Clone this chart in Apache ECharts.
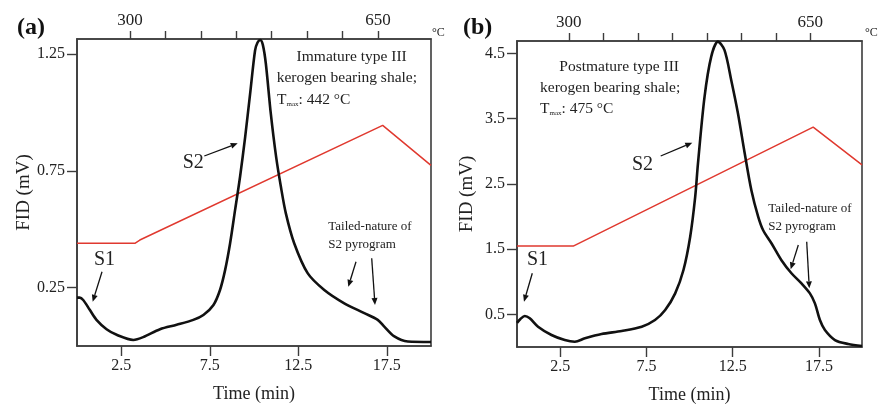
<!DOCTYPE html>
<html>
<head>
<meta charset="utf-8">
<script src="https://cdn.jsdelivr.net/npm/echarts@6/dist/echarts.min.js"></script>
<style>
html,body{margin:0;padding:0;background:#fff}
#chart{width:878px;height:406px}
</style>
</head>
<body>
<div id="chart"></div>
<script>
// Panel (a): immature type III kerogen shale, FID signal (mV) vs time (min)
const timeA = [0, 0.15, 0.35, 0.72, 1.1, 1.67, 2.24, 3.18, 3.74, 4.69, 5.63, 6.57, 7.14, 7.71, 8.08, 8.37, 8.65, 8.93, 9.21, 9.5, 9.78, 10.06, 10.2, 10.35, 10.5, 10.67, 10.95, 11.25, 11.52, 11.8, 12.27, 13.03, 13.97, 15.1, 16.23, 16.99, 17.36, 17.93, 18.69, 20];
const fidA  = [0.207, 0.207, 0.197, 0.155, 0.112, 0.072, 0.048, 0.026, 0.038, 0.072, 0.091, 0.112, 0.133, 0.176, 0.24, 0.326, 0.44, 0.582, 0.724, 0.895, 1.08, 1.266, 1.3, 1.311, 1.29, 1.209, 0.995, 0.81, 0.682, 0.568, 0.44, 0.312, 0.24, 0.183, 0.141, 0.112, 0.083, 0.041, 0.019, 0.017];
// Oven temperature programme trace, drawn in the FID units of panel (a)
const progTimeA = [0, 3.27, 3.55, 17.27, 20];
const progA     = [0.44, 0.44, 0.454, 0.945, 0.774];

// Panel (b): postmature type III kerogen shale
const timeB = [0, 0.2, 0.45, 0.74, 1.22, 2.0, 2.77, 3.35, 3.94, 4.9, 6.07, 7.23, 8.0, 8.59, 9.17, 9.65, 10.04, 10.33, 10.49, 10.87, 11.26, 11.65, 12.03, 12.42, 12.81, 13.2, 13.59, 13.98, 14.27, 14.75, 15.33, 15.91, 16.49, 16.98, 17.27, 17.56, 17.85, 18.43, 19.2, 20];
const fidB  = [0.37, 0.43, 0.475, 0.44, 0.311, 0.184, 0.107, 0.081, 0.133, 0.199, 0.245, 0.311, 0.413, 0.567, 0.822, 1.18, 1.69, 2.3, 2.81, 3.83, 4.45, 4.68, 4.55, 4.09, 3.58, 2.97, 2.4, 2.0, 1.79, 1.59, 1.33, 1.13, 0.975, 0.822, 0.669, 0.413, 0.26, 0.107, 0.046, 0.015];
const progTimeB = [0, 3.26, 17.17, 20];
const progB     = [1.547, 1.547, 3.37, 2.79];

// Tick positions and labels
const timeTicks = [2.5, 7.5, 12.5, 17.5];
const fidTicksA = [0.25, 0.75, 1.25];
const fidTicksB = [0.5, 1.5, 2.5, 3.5, 4.5];
const tempTicks = [300, 350, 400, 450, 500, 550, 600, 650];
const tempLabels = [300, 650];

const SERIF = '"Liberation Serif","DejaVu Serif",serif';
const INK = '#222';
const AXIS = '#3c3c3c';

function zip(xs, ys) { return xs.map((x, i) => [x, ys[i]]); }

function timeAxis(gridIndex) {
  return {
    type: 'value', gridIndex, position: 'bottom', min: 0, max: 20,
    axisLine: { show: true, lineStyle: { color: AXIS, width: 1.6 } },
    axisTick: { show: true, customValues: timeTicks, length: 10, lineStyle: { color: AXIS, width: 1.4 } },
    axisLabel: { customValues: timeTicks, fontFamily: SERIF, fontSize: 16, color: INK, margin: 12 },
    splitLine: { show: false },
    name: 'Time (min)', nameLocation: 'middle', nameGap: 39,
    nameTextStyle: { fontFamily: SERIF, fontSize: 18, color: INK }
  };
}
function tempAxis(gridIndex) {
  return {
    type: 'value', gridIndex, position: 'top', min: 225, max: 725,
    axisLine: { show: true, lineStyle: { color: AXIS, width: 1.6 } },
    axisTick: { show: true, customValues: tempTicks, length: 8, lineStyle: { color: AXIS, width: 1.4 } },
    axisLabel: { customValues: tempLabels, fontFamily: SERIF, fontSize: 17, color: INK, margin: 10 },
    splitLine: { show: false }
  };
}
function fidAxis(gridIndex, max, ticks, gap) {
  return {
    type: 'value', gridIndex, min: 0, max,
    axisLine: { show: true, lineStyle: { color: AXIS, width: 1.6 } },
    axisTick: { show: true, customValues: ticks, length: 10, lineStyle: { color: AXIS, width: 1.4 } },
    axisLabel: { customValues: ticks, fontFamily: SERIF, fontSize: 16, color: INK, margin: 12 },
    splitLine: { show: false },
    name: 'FID (mV)', nameLocation: 'middle', nameGap: gap, nameRotate: 90,
    nameTextStyle: { fontFamily: SERIF, fontSize: 19, color: INK }
  };
}
function fidSeries(xi, yi, xs, ys) {
  return {
    type: 'line', xAxisIndex: xi, yAxisIndex: yi, data: zip(xs, ys),
    showSymbol: false, smooth: 0.3, silent: true,
    lineStyle: { color: '#111', width: 2.6 }, z: 3
  };
}
function progSeries(xi, yi, xs, ys) {
  return {
    type: 'line', xAxisIndex: xi, yAxisIndex: yi, data: zip(xs, ys),
    showSymbol: false, silent: true,
    lineStyle: { color: '#e0392f', width: 1.5 }, z: 2
  };
}

// Annotation helpers
function txt(x, y, text, size, align, extra) {
  return {
    type: 'text', x, y, z: 10, silent: true,
    style: Object.assign({ text, fontFamily: SERIF, fontSize: size, fill: INK, align: align || 'left', verticalAlign: 'middle' }, extra || {})
  };
}
function tmaxText(x, y, value) {
  return {
    type: 'text', x, y, z: 10, silent: true,
    style: {
      text: '{t|T}{s|max}{t|: ' + value + ' °C}',
      align: 'left', verticalAlign: 'middle',
      rich: {
        t: { fontFamily: SERIF, fontSize: 15.5, fill: INK },
        s: { fontFamily: SERIF, fontSize: 7, fill: INK, padding: [9, 0, 0, 0] }
      }
    }
  };
}
function arrow(x1, y1, x2, y2) {
  const a = Math.atan2(y2 - y1, x2 - x1), L = 7, W = 3;
  const bx = x2 - L * Math.cos(a), by = y2 - L * Math.sin(a);
  const px = -Math.sin(a), py = Math.cos(a);
  return [
    { type: 'line', z: 10, silent: true, shape: { x1, y1, x2: bx, y2: by }, style: { stroke: '#111', lineWidth: 1.3 } },
    { type: 'polygon', z: 10, silent: true, shape: { points: [[x2, y2], [bx + px * W, by + py * W], [bx - px * W, by - py * W]] }, style: { fill: '#111' } }
  ];
}

const graphics = [
  txt(17, 28, '(a)', 24, 'left', { fontWeight: 'bold', fill: '#111' }),
  txt(463, 28, '(b)', 24, 'left', { fontWeight: 'bold', fill: '#111' }),
  txt(432, 33, '°C', 12),
  txt(865, 33, '°C', 12),
  // panel (a) notes
  txt(351.7, 56.7, 'Immature type III', 15.5, 'center'),
  txt(276.7, 78, 'kerogen bearing shale;', 15.5),
  tmaxText(277, 100, 442),
  txt(182.7, 163, 'S2', 20),
  txt(94, 260, 'S1', 20),
  txt(328.3, 226.7, 'Tailed-nature of', 13),
  txt(328.3, 245, 'S2 pyrogram', 13),
  ...arrow(204.3, 156, 237.7, 143.3),
  ...arrow(102, 271.7, 92.7, 301.7),
  ...arrow(356, 261.7, 348.3, 286.7),
  ...arrow(371.7, 258.3, 375, 305),
  // panel (b) notes
  txt(679, 66.7, 'Postmature type III', 15.5, 'right'),
  txt(540, 88.3, 'kerogen bearing shale;', 15.5),
  tmaxText(540, 109, 475),
  txt(632, 165, 'S2', 20),
  txt(527, 260, 'S1', 20),
  txt(768.3, 208.3, 'Tailed-nature of', 13),
  txt(768.3, 226.7, 'S2 pyrogram', 13),
  ...arrow(660.7, 156, 692.3, 142.7),
  ...arrow(532.3, 273.3, 524, 301.7),
  ...arrow(798.3, 245, 790.7, 269.3),
  ...arrow(806.7, 241.7, 809.3, 288.3)
];

const chart = echarts.init(document.getElementById('chart'), null, { renderer: 'canvas' });
chart.setOption({
  animation: false,
  backgroundColor: '#fff',
  grid: [
    { left: 77, top: 39, width: 354, height: 307, show: true, borderColor: AXIS, borderWidth: 1.6, outerBoundsMode: 'none' },
    { left: 517, top: 41, width: 345, height: 306, show: true, borderColor: AXIS, borderWidth: 1.6, outerBoundsMode: 'none' }
  ],
  xAxis: [timeAxis(0), tempAxis(0), timeAxis(1), tempAxis(1)],
  yAxis: [fidAxis(0, 1.315, fidTicksA, 43), fidAxis(1, 4.69, fidTicksB, 40)],
  series: [
    progSeries(0, 0, progTimeA, progA),
    fidSeries(0, 0, timeA, fidA),
    progSeries(2, 1, progTimeB, progB),
    fidSeries(2, 1, timeB, fidB)
  ],
  graphic: graphics
});
</script>
</body>
</html>
